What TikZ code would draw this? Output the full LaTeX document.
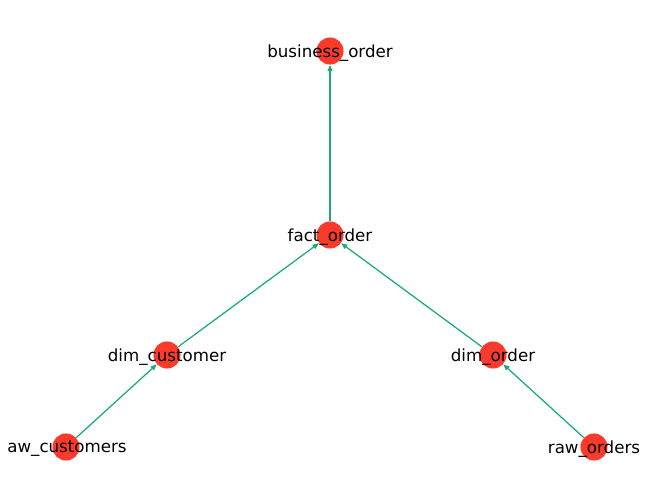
\documentclass[tikz,border=0pt]{standalone}
\usepackage{fontspec}
\setmainfont{DejaVu Sans}
\usetikzlibrary{arrows.meta}
\definecolor{nodered}{RGB}{250,58,42}
\definecolor{edgegreen}{RGB}{26,170,119}
\begin{document}
\begin{tikzpicture}[x=0.72pt,y=-0.72pt,
  dot/.style={circle,fill=nodered,draw=none,minimum size=19.5pt,inner sep=0pt},
  lbl/.style={font=\fontsize{12pt}{14pt}\selectfont,inner sep=0pt,yshift=-1.4pt},
  edge/.style={draw=edgegreen,line width=0.9pt,-{Triangle[length=4.5pt,width=3.5pt]}}]
\useasboundingbox (0,0) rectangle (660,499);
\node[dot] (bo) at (330,51) {};
\node[dot] (fo) at (330,235) {};
\node[dot] (dc) at (167,355) {};
\node[dot] (do) at (493,355) {};
\node[dot] (aw) at (66,447) {};
\node[dot] (ro) at (594,447) {};
\path[edge] (fo) -- (bo);
\path[edge] (dc) -- (fo);
\path[edge] (do) -- (fo);
\path[edge] (aw) -- (dc);
\path[edge] (ro) -- (do);
\node[lbl] (tbo) at (330,51) {business\_order};
\node[lbl] (tfo) at (330,235) {fact\_order};
\node[lbl] (tdc) at (167,355) {dim\_customer};
\node[lbl] (tdo) at (493,355) {dim\_order};
\node[lbl] (taw) at (67,447) {aw\_customers};
\node[lbl] (tro) at (594,447) {raw\_orders};
\end{tikzpicture}
\end{document}
